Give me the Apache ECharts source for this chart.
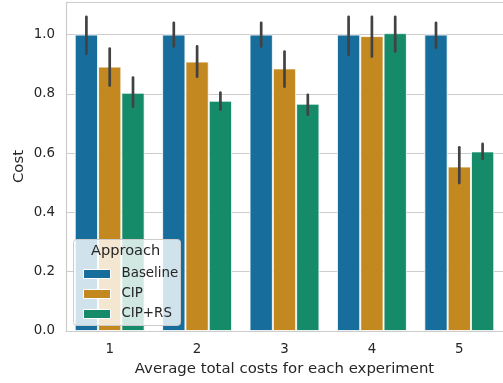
<!DOCTYPE html>
<html>
<head>
<meta charset="utf-8">
<script src="https://cdn.jsdelivr.net/npm/echarts@6/dist/echarts.min.js"></script>
<style>html,body{margin:0;padding:0;background:#fff}#c{width:503px;height:383px}</style>
</head>
<body>
<div id="c"></div>
<script>
const categories = ['1', '2', '3', '4', '5'];
const seriesNames = ['Baseline', 'CIP', 'CIP+RS'];
const baseline = [1.0, 1.0, 1.0, 1.0, 1.0];
const cip = [0.892, 0.909, 0.886, 0.995, 0.555];
const cipRs = [0.804, 0.777, 0.767, 1.005, 0.606];
const baselineLo = [0.935, 0.960, 0.960, 0.932, 0.956];
const baselineHi = [1.060, 1.040, 1.040, 1.060, 1.040];
const cipLo = [0.828, 0.858, 0.824, 0.926, 0.499];
const cipHi = [0.953, 0.960, 0.943, 1.060, 0.620];
const cipRsLo = [0.757, 0.747, 0.730, 0.943, 0.581];
const cipRsHi = [0.855, 0.804, 0.797, 1.060, 0.631];
const yTicks = [0, 0.2, 0.4, 0.6, 0.8, 1.0];

const colors = ['#176d9c', '#c38820', '#168b6a'];
const values = [baseline, cip, cipRs];
const los = [baselineLo, cipLo, cipRsLo];
const his = [baselineHi, cipHi, cipRsHi];
const txt = '#262626';
const font = 'DejaVu Sans';

const barSeries = values.map((v, k) => ({
  name: seriesNames[k], type: 'bar', data: v,
  barGap: '0%', barCategoryGap: '20%',
  itemStyle: { color: colors[k], borderColor: 'rgba(255,255,255,0.8)', borderWidth: 1 },
  z: 2
}));

const errSeries = values.map((v, k) => ({
  type: 'custom', name: 'err' + k, z: 3,
  data: categories.map((c, i) => [i, los[k][i], his[k][i]]),
  renderItem: function (params, api) {
    const ci = api.value(0);
    const lo = api.coord([ci, api.value(1)]);
    const hi = api.coord([ci, api.value(2)]);
    const bw = api.size([1, 0])[0];
    const off = (k - 1) * bw * 0.8 / 3;
    return { type: 'line', shape: { x1: lo[0] + off, y1: lo[1], x2: hi[0] + off, y2: hi[1] },
      style: { stroke: '#424242', lineWidth: 2.7, lineCap: 'round' } };
  }
}));

const chart = echarts.init(document.getElementById('c'), null, { renderer: 'canvas' });
chart.setOption({
  animation: false,
  backgroundColor: '#ffffff',
  textStyle: { fontFamily: font },
  grid: { left: 66, right: -3, top: 2, bottom: 52 },
  xAxis: {
    type: 'category', data: categories,
    name: 'Average total costs for each experiment', nameLocation: 'middle', nameGap: 30.5,
    nameMoveOverlap: false,
    nameTextStyle: { fontSize: 14.9, color: txt, fontFamily: font },
    axisTick: { show: false },
    axisLine: { show: true, lineStyle: { color: '#cccccc', width: 1.2 } },
    axisLabel: { fontSize: 13.4, color: txt, margin: 12, fontFamily: font },
    splitLine: { show: false }
  },
  yAxis: {
    type: 'value', min: 0, max: 1.11, interval: 0.2,
    name: 'Cost', nameLocation: 'middle', nameGap: 39,
    nameMoveOverlap: false,
    nameTextStyle: { fontSize: 14.9, color: txt, fontFamily: font },
    axisTick: { show: false },
    axisLine: { show: true, lineStyle: { color: '#cccccc', width: 1.2 } },
    axisLabel: { fontSize: 13.4, color: txt, margin: 11, fontFamily: font,
      formatter: function (v) { return yTicks.some(t => Math.abs(t - v) < 1e-6) ? v.toFixed(1) : ''; } },
    splitLine: { show: true, lineStyle: { color: '#cccccc', width: 1.2 } }
  },
  legend: {
    data: seriesNames, orient: 'vertical', left: 78, top: 262,
    itemWidth: 27, itemHeight: 9, itemGap: 6,
    icon: 'rect',
    itemStyle: { borderColor: '#ffffff', borderWidth: 1 },
    textStyle: { fontSize: 13.4, color: txt, fontFamily: font, lineHeight: 14, padding: [0, 0, 0, 6] },
    z: 6
  },
  graphic: [
    { type: 'rect', left: 73, top: 239, z: 5,
      shape: { width: 107, height: 86, r: 3 },
      style: { fill: 'rgba(255,255,255,0.8)', stroke: '#cccccc', lineWidth: 1 } },
    { type: 'text', z: 6, top: 244, left: 91,
      style: { text: 'Approach', fontSize: 14.6, fill: txt, fontFamily: font } }
  ],
  series: barSeries.concat(errSeries)
});
</script>
</body>
</html>
